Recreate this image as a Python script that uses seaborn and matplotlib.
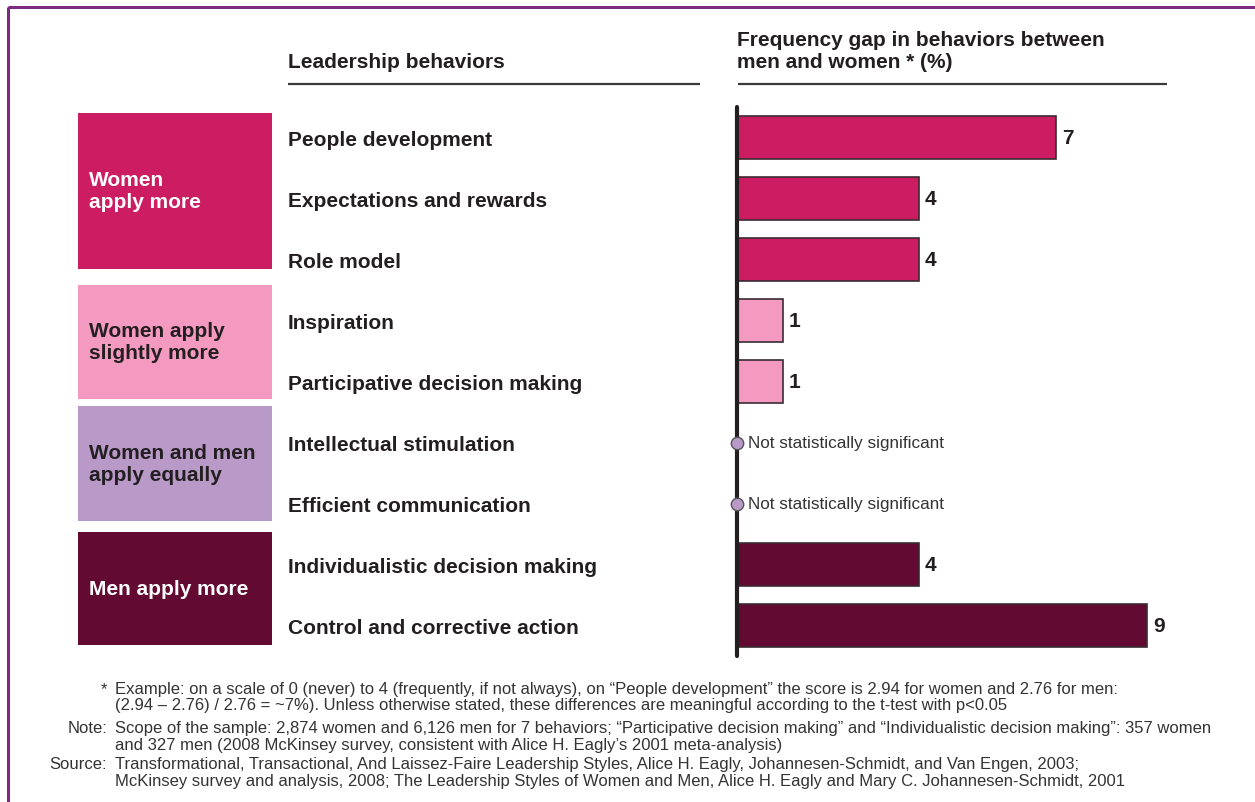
import matplotlib
matplotlib.use("Agg")
import matplotlib.pyplot as plt
from matplotlib.patches import Rectangle
import pandas as pd
import seaborn as sns

# --- data -------------------------------------------------------------
behaviors = [
    "People development",
    "Expectations and rewards",
    "Role model",
    "Inspiration",
    "Participative decision making",
    "Intellectual stimulation",
    "Efficient communication",
    "Individualistic decision making",
    "Control and corrective action",
]
# frequency gap in % (None = not statistically significant)
gap_values = [7, 4, 4, 1, 1, None, None, 4, 9]
behavior_groups = ["women_more", "women_more", "women_more",
                   "women_slightly", "women_slightly",
                   "equal", "equal",
                   "men_more", "men_more"]

group_keys = ["women_more", "women_slightly", "equal", "men_more"]
group_titles = ["Women\napply more", "Women apply\nslightly more",
                "Women and men\napply equally", "Men apply more"]
group_colors = {"women_more": "#cc1d62", "women_slightly": "#f49ac1",
                "equal": "#b899c8", "men_more": "#620a32"}
group_text_colors = {"women_more": "white", "women_slightly": "#231f20",
                     "equal": "#231f20", "men_more": "white"}

left_header = "Leadership behaviors"
right_header = "Frequency gap in behaviors between\nmen and women * (%)"
not_significant_text = "Not statistically significant"

footnote_rows = [
    ("*", "Example: on a scale of 0 (never) to 4 (frequently, if not always), on \u201cPeople development\u201d the score is 2.94 for women and 2.76 for men:"),
    ("", "(2.94 \u2013 2.76) / 2.76 = ~7%). Unless otherwise stated, these differences are meaningful according to the t-test with p<0.05"),
    ("Note:", "Scope of the sample: 2,874 women and 6,126 men for 7 behaviors; \u201cParticipative decision making\u201d and \u201cIndividualistic decision making\u201d: 357 women"),
    ("", "and 327 men (2008 McKinsey survey, consistent with Alice H. Eagly\u2019s 2001 meta-analysis)"),
    ("Source:", "Transformational, Transactional, And Laissez-Faire Leadership Styles, Alice H. Eagly, Johannesen-Schmidt, and Van Engen, 2003;"),
    ("", "McKinsey survey and analysis, 2008; The Leadership Styles of Women and Men, Alice H. Eagly and Mary C. Johannesen-Schmidt, 2001"),
]

df = pd.DataFrame({"behavior": behaviors, "gap": gap_values, "group": behavior_groups})
df_sig = df.dropna(subset=["gap"])

# --- styling ----------------------------------------------------------
sns.set_theme(style="white")
plt.rcParams["font.family"] = ["Liberation Sans", "DejaVu Sans"]
DARK = "#231f20"

W, H = 1255, 803
fig = plt.figure(figsize=(W / 100, H / 100), dpi=100)
fig.patch.set_facecolor("white")

# pixel-space canvas for frame, headers, group boxes and notes
bg = fig.add_axes([0, 0, 1, 1], zorder=0)
bg.set_xlim(0, W)
bg.set_ylim(H, 0)
bg.axis("off")

# frame
bg.add_patch(Rectangle((8, 8), 1400, 1000, fill=False, edgecolor="#7d2a84", lw=2.2))

# headers
bg.text(288, 63, left_header, fontsize=15, fontweight="bold", color=DARK, va="center", ha="left")
bg.text(737, 52, right_header, fontsize=15, fontweight="bold", color=DARK, va="center", ha="left",
        linespacing=1.2)
bg.plot([288, 700], [85, 85], color="#3a3a3a", lw=1.6, solid_capstyle="butt")
bg.plot([738, 1167], [85, 85], color="#3a3a3a", lw=1.6, solid_capstyle="butt")

# group boxes
box_spans = [(114, 270), (286, 400), (407, 522), (533, 646)]
for key, title, (y0, y1) in zip(group_keys, group_titles, box_spans):
    bg.add_patch(Rectangle((78, y0), 194, y1 - y0, facecolor=group_colors[key], edgecolor="none"))
    bg.text(89, (y0 + y1) / 2, title, fontsize=15, fontweight="bold",
            color=group_text_colors[key], va="center", ha="left", linespacing=1.2)

# footnotes
note_y = [690, 706, 729, 746, 765, 782]
for (tag, line), y in zip(footnote_rows, note_y):
    if tag:
        bg.text(107, y, tag, fontsize=12, color="#333333", va="center", ha="right")
    bg.text(115, y, line, fontsize=12, color="#333333", va="center", ha="left")

# --- bar chart --------------------------------------------------------
x0_px, px_per_unit, x_max = 737, 45.6, 10
top_px, bot_px = 108, 657
ax = fig.add_axes([x0_px / W, 1 - bot_px / H, px_per_unit * x_max / W, (bot_px - top_px) / H], zorder=2)
ax.patch.set_alpha(0)

sns.barplot(data=df_sig, x="gap", y="behavior", hue="group", order=behaviors,
            hue_order=group_keys, palette=group_colors, dodge=False, width=0.72,
            saturation=1, edgecolor="#3b2b33", linewidth=1.2, legend=False,
            orient="h", ax=ax)

ax.set_xlim(0, x_max)
ax.set_ylim(len(behaviors) - 0.5, -0.5)
ax.set_xlabel("")
ax.set_ylabel("")
ax.set_xticks([])
for side in ["top", "right", "bottom"]:
    ax.spines[side].set_visible(False)
ax.spines["left"].set_color(DARK)
ax.spines["left"].set_linewidth(3.0)
ax.spines["left"].set_capstyle("round")

# behaviour names as left-aligned tick labels
ax.tick_params(axis="y", length=0, pad=(x0_px - 288) * 0.72)
for lbl in ax.get_yticklabels():
    lbl.set_horizontalalignment("left")
    lbl.set_fontsize(15)
    lbl.set_fontweight("bold")
    lbl.set_color(DARK)

# value labels and "not significant" markers
for i, row in df.iterrows():
    if pd.notna(row["gap"]):
        ax.annotate(f"{row['gap']:g}", xy=(row["gap"], i), xytext=(4, 0),
                    textcoords="offset points", va="center", ha="left",
                    fontsize=15, fontweight="bold", color=DARK)
    else:
        ax.scatter([0], [i], s=80, facecolor=group_colors["equal"], edgecolor="#555555",
                   linewidth=1.0, zorder=5, clip_on=False)
        ax.text(11 / px_per_unit, i, not_significant_text, va="center", ha="left",
                fontsize=12.3, color="#333333")

fig.savefig("out.png", dpi=100, facecolor="white")
